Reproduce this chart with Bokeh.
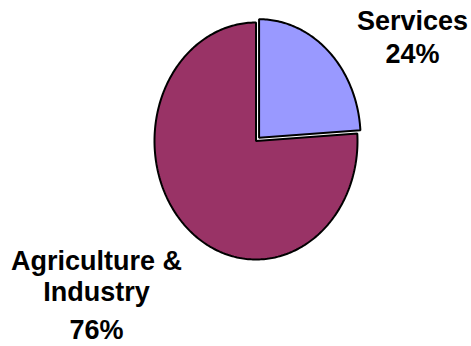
import math
from bokeh.plotting import figure
from bokeh.models import Range1d, ColumnDataSource
from bokeh.core.properties import value
from bokeh.embed import file_html
from bokeh.resources import INLINE

# ---- data ----
categories = ["Services", "Agriculture & Industry"]
shares = [24, 76]
label_lines = [["Services", "24%"], ["Agriculture &", "Industry", "76%"]]
colors = ["#9999FF", "#993366"]
explode = [4.5, 0.0]

# ---- layout (pixels) ----
W, H = 471, 346
cx, cy = 255.5, 140.5
rx, ry = 101.5, 118.5
SHIFT = 12  # renderer places alphabetic text lower than the anchor

p = figure(width=W, height=H, output_backend="svg", toolbar_location=None,
           x_range=Range1d(0, W), y_range=Range1d(H, 0), min_border=0)
p.axis.visible = False
p.grid.visible = False
p.outline_line_color = None
p.background_fill_color = "white"
p.border_fill_color = "white"

total = float(sum(shares))
xs, ys = [], []
start = 0.0
for s, ex in zip(shares, explode):
    a0 = start / total * 2 * math.pi
    a1 = (start + s) / total * 2 * math.pi
    mid = (a0 + a1) / 2
    ox = cx + ex * math.sin(mid)
    oy = cy - ex * math.cos(mid)
    n = max(8, int(s * 4))
    px = [ox]
    py = [oy]
    for i in range(n + 1):
        t = a0 + (a1 - a0) * i / n
        px.append(ox + rx * math.sin(t))
        py.append(oy - ry * math.cos(t))
    xs.append(px)
    ys.append(py)
    start += s

order = [1, 0]
src = ColumnDataSource(dict(xs=[xs[i] for i in order], ys=[ys[i] for i in order],
                            color=[colors[i] for i in order]))
p.patches("xs", "ys", source=src, fill_color="color", line_color="black", line_width=2)

# labels: (center x, baselines)
label_pos = [(412, [32, 65]), (96, [272, 303, 341])]
for lines, (lx, bases) in zip(label_lines, label_pos):
    p.text(x=[lx] * len(lines), y=[b - SHIFT for b in bases], text=lines,
           text_font=value("Liberation Sans"), text_font_style="bold",
           text_font_size="27px", text_align="center", text_baseline="alphabetic",
           text_color="black")

open("out.html", "w").write(file_html(p, INLINE))
